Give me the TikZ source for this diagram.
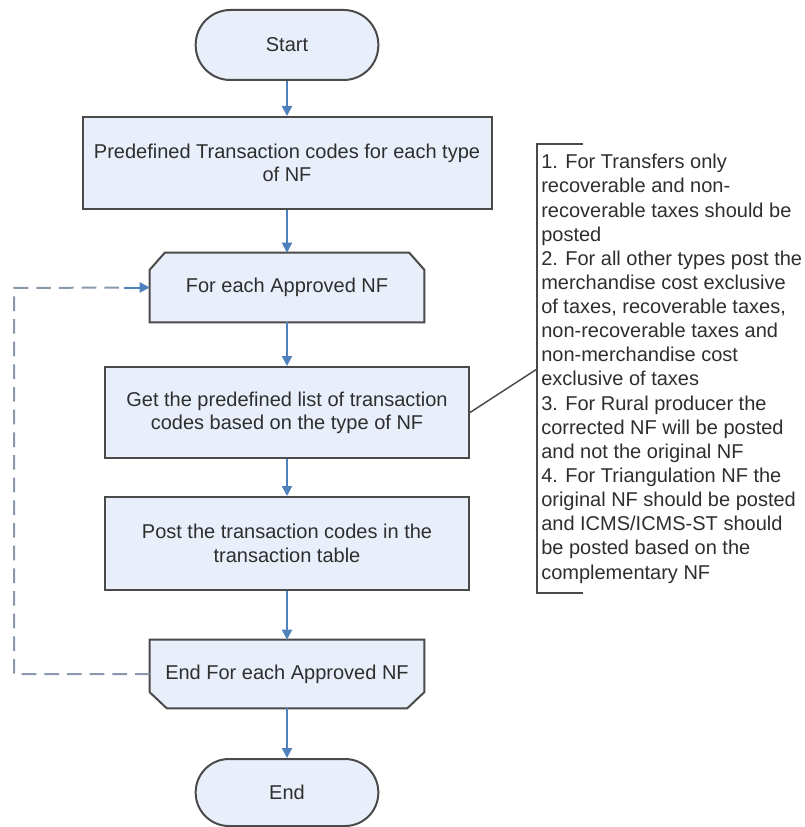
\documentclass[tikz,border=0pt]{standalone}
\usepackage{fontspec}
\setmainfont{Liberation Sans}
\usetikzlibrary{arrows.meta,calc,backgrounds}
\definecolor{boxfill}{HTML}{E9EFFA}
\definecolor{boxline}{HTML}{4A4A4A}
\definecolor{flowblue}{HTML}{4F81BD}
\definecolor{loopgray}{HTML}{8A98AE}
\definecolor{txt}{HTML}{2E2E2E}
\begin{document}
\begin{tikzpicture}[x=0.75pt,y=-0.75pt,
  every node/.style={font=\fontsize{15}{17.5}\selectfont, text=txt},
  term/.style={draw=boxline, line width=1.5pt, fill=boxfill, minimum width=137pt, inner sep=0pt, align=center},
  procbox/.style={draw=boxline, line width=1.5pt, fill=boxfill, inner sep=0pt, align=center},
  limitnode/.style={draw=none, inner sep=0pt, minimum width=205.5pt, align=center},
  limitshape/.style={draw=boxline, line width=1.5pt, fill=boxfill, line join=miter},
  flow/.style={draw=flowblue, line width=1.5pt, -{Triangle[length=7.5pt,width=7.5pt]}},
  loopline/.style={draw=loopgray, line width=1.5pt, dash pattern=on 11pt off 6pt},
  noteline/.style={draw=boxline, line width=1.1pt}
]
\useasboundingbox (0,0) rectangle (804,827);

% Start
\node[term, minimum height=52.5pt, rounded corners=26pt] (start) at (287,45) {Start};
% Predefined
\node[procbox, minimum width=306.75pt, minimum height=69pt] (pre) at (287,163) {Predefined Transaction codes for each type\\of NF};
% For each (loop start)
\node[limitnode, minimum height=51.75pt] (fe) at (287,287.5) {For each Approved NF};
% Get
\node[procbox, minimum width=273pt, minimum height=68.25pt] (get) at (287,412.5) {Get the predefined list of transaction\\codes based on the type of NF};
% Post
\node[procbox, minimum width=273pt, minimum height=69.75pt] (post) at (287,543.5) {Post the transaction codes in the\\transaction table};
% End for (loop end)
\node[limitnode, minimum height=51pt] (efe) at (287,674) {End For each Approved NF};
% End
\node[term, minimum height=50.25pt, rounded corners=25pt] (end) at (287,792.5) {End};

\begin{scope}[on background layer]
  \draw[limitshape] (fe.south west) -- ($(fe.north west)+(0,17)$) -- ($(fe.north west)+(15,0)$)
     -- ($(fe.north east)+(-15,0)$) -- ($(fe.north east)+(0,17)$) -- (fe.south east) -- cycle;
  \draw[limitshape] (efe.north west) -- ($(efe.south west)+(0,-16)$) -- ($(efe.south west)+(17,0)$)
     -- ($(efe.south east)+(-17,0)$) -- ($(efe.south east)+(0,-16)$) -- (efe.north east) -- cycle;
\end{scope}

% main flow
\draw[flow] (start) -- (pre);
\draw[flow] (pre) -- (fe);
\draw[flow] (fe) -- (get);
\draw[flow] (get) -- (post);
\draw[flow] (post) -- (efe);
\draw[flow] (efe) -- (end);

% loop back
\coordinate (lb) at (14,674);
\coordinate (lt) at (14,288);
\draw[loopline] (efe.west) -- (lb) -- (lt) -- ($(fe.west)+(-22,0)$);
\draw[flow] ($(fe.west)+(-26,0)$) -- (fe.west);

% annotation
\coordinate (bt) at (537,144);
\coordinate (bb) at (537,593);
\coordinate (btr) at (583,144);
\coordinate (bbr) at (583,593);
\coordinate (bj) at (537,369);
\draw[noteline] (btr) -- (bt) -- (bb) -- (bbr);
\draw[noteline] (get.east) -- (bj);
\node[anchor=north west, inner sep=0pt, align=left, font=\fontsize{15}{18.1}\selectfont] (note) at (541,154) {1. For Transfers only\\
recoverable and non-\\
recoverable taxes should be\\
posted\\
2. For all other types post the\\
merchandise cost exclusive\\
of taxes, recoverable taxes,\\
non-recoverable taxes and\\
non-merchandise cost\\
exclusive of taxes\\
3. For Rural producer the\\
corrected NF will be posted\\
and not the original NF\\
4. For Triangulation NF the\\
original NF should be posted\\
and ICMS/ICMS-ST should\\
be posted based on the\\
complementary NF};
\end{tikzpicture}
\end{document}
